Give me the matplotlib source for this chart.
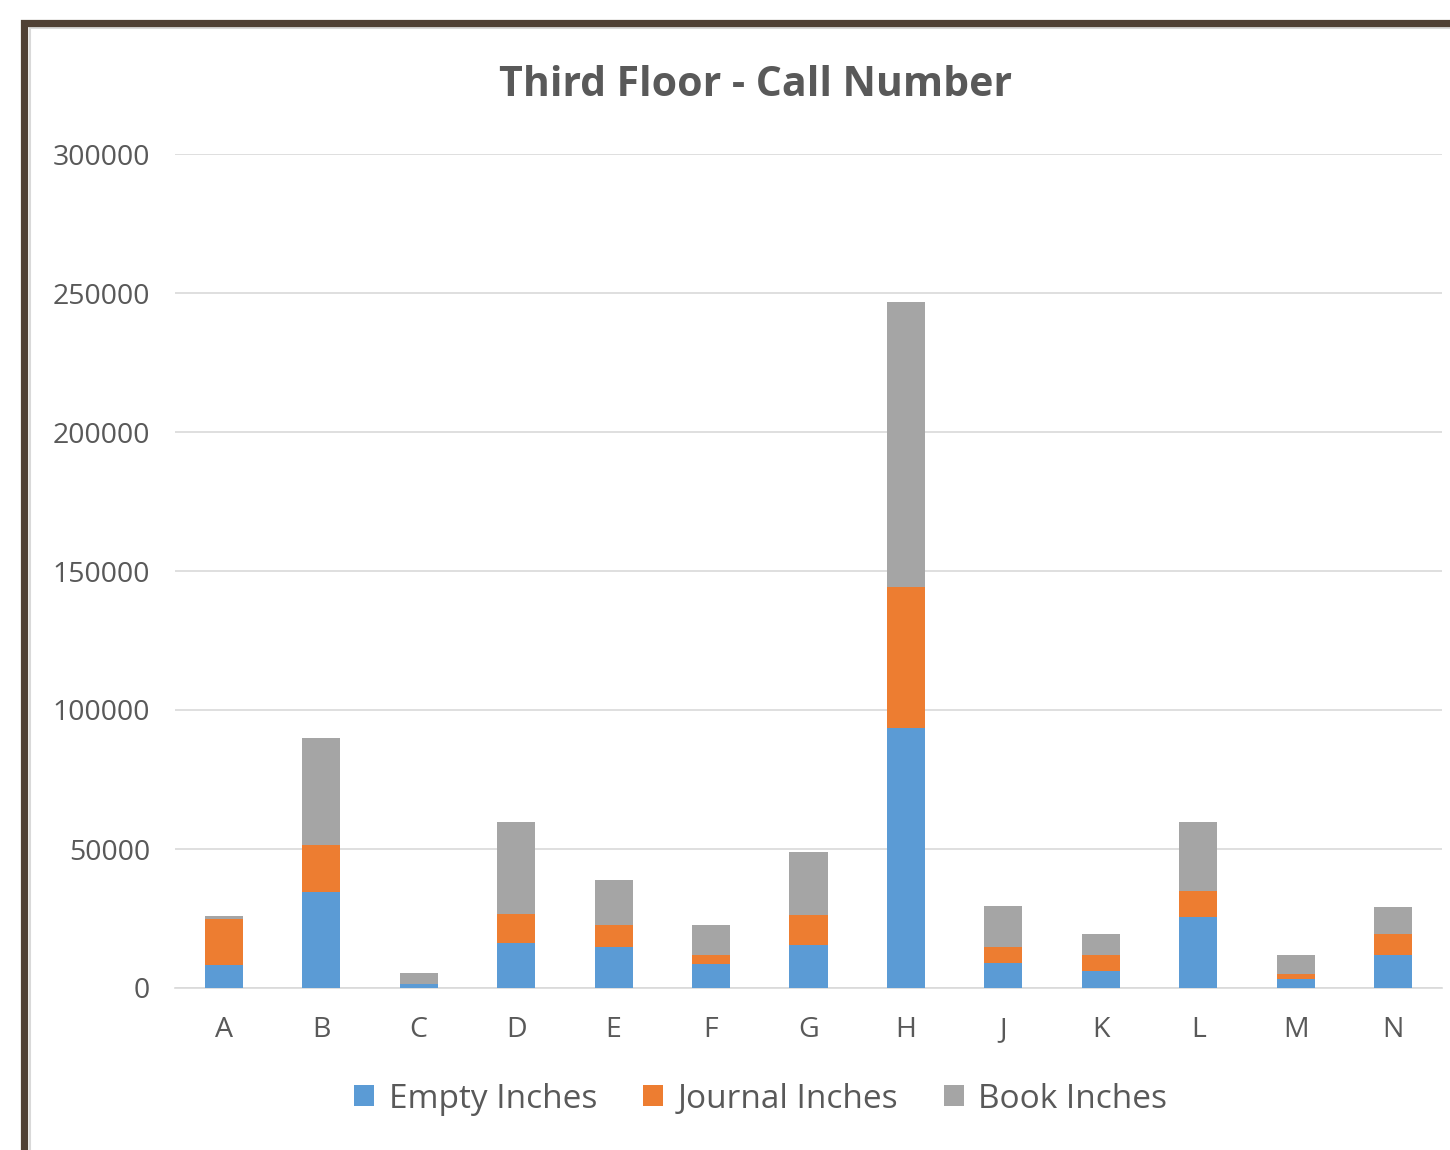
import matplotlib
matplotlib.use("Agg")
import matplotlib.pyplot as plt
import numpy as np
from matplotlib.patches import Rectangle

# values
categories = ["A", "B", "C", "D", "E", "F", "G", "H", "J", "K", "L", "M", "N"]
empty_in = [8300, 34400, 1300, 16100, 14900, 8500, 15500, 93500, 9000, 6000, 25500, 3100, 12000]
journal_in = [16500, 17000, 0, 10600, 7600, 3500, 10600, 50700, 5900, 6000, 9400, 1800, 7500]
book_in = [1200, 38400, 4100, 33100, 16500, 10500, 22900, 102600, 14700, 7500, 24800, 7100, 9500]

plt.rcParams['font.family'] = ['Open Sans', 'DejaVu Sans']

fig = plt.figure(figsize=(14.5, 11.5), dpi=100)
ax = fig.add_axes([175/1450, 162/1150, 1267/1450, 834/1150])

x = np.arange(len(categories))
w = 0.39
e = np.array(empty_in)
j = np.array(journal_in)
b = np.array(book_in)
ax.bar(x, e, w, color='#5B9BD5', label='Empty Inches', zorder=3)
ax.bar(x, j, w, bottom=e, color='#ED7D31', label='Journal Inches', zorder=3)
ax.bar(x, b, w, bottom=e + j, color='#A5A5A5', label='Book Inches', zorder=3)

ax.set_xlim(-0.5, len(categories) - 0.5)
ax.set_ylim(0, 300000)
ax.set_yticks(range(0, 300001, 50000))
ax.set_xticks(x)
ax.set_xticklabels(categories)
ax.grid(axis='y', color='#D9D9D9', linewidth=1.2, zorder=0)
for s in ['top', 'right', 'left']:
    ax.spines[s].set_visible(False)
ax.spines['bottom'].set_color('#D9D9D9')
ax.spines['bottom'].set_linewidth(1.2)
ax.tick_params(axis='both', length=0, labelsize=20.5, colors='#595959')
ax.tick_params(axis='y', pad=18)
ax.tick_params(axis='x', pad=20)

fig.text(755/1450, 1 - 85/1150, 'Third Floor - Call Number', ha='center', va='center',
         fontsize=29.5, fontweight='bold', color='#595959')

fig.legend(loc='center', bbox_to_anchor=(761/1450, 1 - 1099/1150), ncol=3, frameon=False,
           fontsize=24, labelcolor='#595959', handlelength=0.6, handleheight=0.6,
           handletextpad=0.45, columnspacing=1.35)

# dark frame around the chart, cut by the image edges
fig.patches.append(Rectangle((24.5/1450, -0.1), 2, 1 - 22.5/1150 + 0.1, transform=fig.transFigure,
                             fill=False, edgecolor='#4F4034', linewidth=5.2, zorder=10))
fig.patches.append(Rectangle((30/1450, -0.1), 2, 1 - 28/1150 + 0.1, transform=fig.transFigure,
                             fill=False, edgecolor='#D9D9D9', linewidth=1.5, zorder=9))

fig.savefig('out.png', dpi=100)
